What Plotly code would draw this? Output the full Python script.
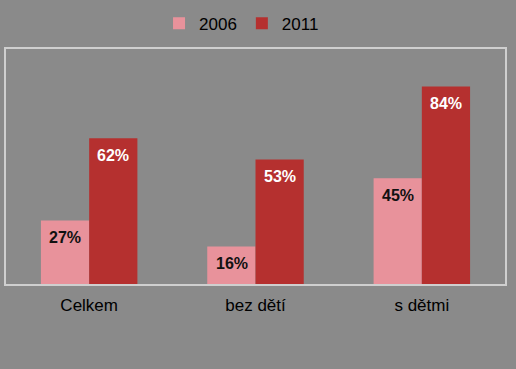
import plotly.graph_objects as go

categories = ["Celkem", "bez dětí", "s dětmi"]
series_names = ["2006", "2011"]
values_2006 = [27, 16, 45]
values_2011 = [62, 53, 84]

pink = "#E8929B"
red = "#B5302F"
bg = "#8A8A8A"

fig = go.Figure()
fig.add_trace(go.Bar(name=series_names[0], x=categories, y=values_2006,
                     marker=dict(color=pink, line=dict(width=0))))
fig.add_trace(go.Bar(name=series_names[1], x=categories, y=values_2011,
                     marker=dict(color=red, line=dict(width=0))))

annotations = []
for cat, v in zip(categories, values_2006):
    annotations.append(dict(x=cat, y=v, xref="x", yref="y", text=f"<b>{v}%</b>", showarrow=False,
                            xshift=-24, yshift=-17, font=dict(family="Liberation Sans, Arial", size=16, color="#111111"),
                            xanchor="center", yanchor="middle"))
for cat, v in zip(categories, values_2011):
    annotations.append(dict(x=cat, y=v, xref="x", yref="y", text=f"<b>{v}%</b>", showarrow=False,
                            xshift=24, yshift=-17, font=dict(family="Liberation Sans, Arial", size=16, color="white"),
                            xanchor="center", yanchor="middle"))

fig.update_layout(
    width=516, height=369,
    margin=dict(l=6, r=11, t=44, b=85),
    paper_bgcolor=bg, plot_bgcolor=bg,
    barmode="group", bargap=0.42, bargroupgap=0,
    font=dict(family="Liberation Sans, Arial", size=17, color="black"),
    legend=dict(orientation="h", x=0.472, xanchor="center", y=1.108, yanchor="middle",
                font=dict(size=17), itemwidth=30, bgcolor="rgba(0,0,0,0)"),
    annotations=annotations,
    xaxis=dict(showline=True, mirror=True, linecolor="#CFCFCF", linewidth=2,
               showgrid=False, ticks="", tickfont=dict(size=17, color="black"),
               ticklabelstandoff=5),
    yaxis=dict(range=[0, 100], showline=True, mirror=True, linecolor="#CFCFCF", linewidth=2,
               showgrid=False, showticklabels=False, ticks="", zeroline=False),
)

fig.write_html("out.html")
